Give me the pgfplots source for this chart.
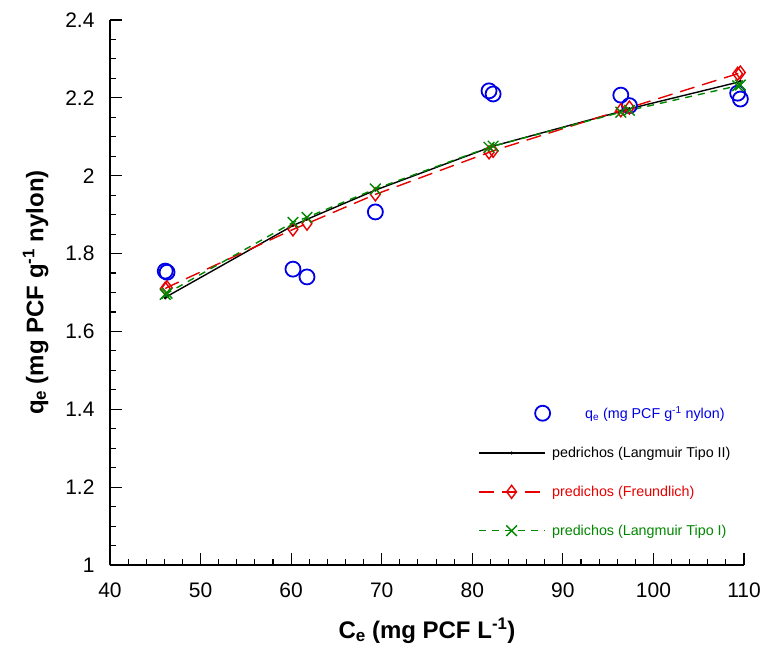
\documentclass[border=0pt]{standalone}
\usepackage{fontspec}
\setmainfont{Liberation Sans}
\usepackage{pgfplots}
\pgfplotsset{compat=1.18}
\definecolor{qblue}{RGB}{0,0,230}
\definecolor{fred}{RGB}{230,0,0}
\definecolor{lgreen}{RGB}{0,135,0}
\newcommand{\sube}{\raisebox{-2.5pt}{\fontsize{17}{18}\selectfont e}}
\begin{document}
\begin{tikzpicture}
\useasboundingbox (-110pt,-80pt) rectangle (655pt,565pt);
\begin{axis}[
  at={(0pt,0pt)}, anchor=south west,
  scale only axis, width=634pt, height=545pt,
  xmin=40, xmax=110, ymin=1, ymax=2.4,
  axis lines*=left,
  axis line style={line width=1.2pt},
  xtick={40,50,...,110}, ytick={1,1.2,...,2.4},
  minor x tick num=4, minor y tick num=3,
  tick align=inside,
  major tick length=12pt, minor tick length=6pt,
  tick style={line width=1.1pt, black},
  /pgf/number format/assume math mode=true,
  /pgf/number format/fixed,
  ticklabel style={font=\fontsize{21}{23}\selectfont},
  xticklabel style={yshift=-14pt},
  yticklabel style={xshift=-12pt},
  xlabel={\textbf{C\sube\ (mg PCF L\textsuperscript{-1})}},
  ylabel={\textbf{q\sube\ (mg PCF g\textsuperscript{-1} nylon)}},
  label style={font=\fontsize{24}{26}\selectfont},
  xlabel style={yshift=-14pt},
  ylabel style={yshift=10pt},
  legend style={draw=none, fill=none, at={(0.58,0.295)}, anchor=north west,
    font=\fontsize{14.3}{16}\selectfont, row sep=23pt, inner sep=0pt},
  legend cell align=left,
  legend image code/.code={\draw[mark repeat=2,mark phase=2] plot coordinates {(0pt,0pt) (33pt,0pt) (66pt,0pt)};},
]
\addplot[only marks, mark=o, mark size=7.5pt, qblue, line width=1.8pt,
  legend image code/.code={\draw plot coordinates {(64pt,0pt)};}]
  coordinates {
  (46.1,1.755) (46.3,1.752) (60.2,1.760) (61.75,1.740) (69.3,1.907)
  (81.85,2.218) (82.3,2.210) (96.4,2.207) (97.35,2.180) (109.3,2.212) (109.6,2.197)
  };
\addlegendentry{\textcolor{qblue}{\hspace{33pt}q\textsubscript{e} (mg PCF g\textsuperscript{-1} nylon)}}
\addplot[black, line width=1.4pt, mark=*, mark size=0.7pt] coordinates {
  (46.1,1.686) (46.3,1.690) (60.2,1.872) (61.75,1.888) (69.3,1.963)
  (81.85,2.072) (82.3,2.076) (96.4,2.165) (97.35,2.172) (109.3,2.240) (109.6,2.243)
  };
\addlegendentry{pedrichos (Langmuir Tipo II)}
\addplot[fred, line width=1.4pt, dash pattern=on 15pt off 8pt, mark=diamond, mark size=6.5pt,
  mark options={solid, line width=1.4pt}] coordinates {
  (46.1,1.710) (46.3,1.713) (60.2,1.862) (61.75,1.877) (69.3,1.952)
  (81.85,2.060) (82.3,2.064) (96.4,2.168) (97.35,2.175) (109.3,2.262) (109.6,2.265)
  };
\addlegendentry{\textcolor{fred}{predichos (Freundlich)}}
\addplot[lgreen, line width=1.4pt, dash pattern=on 7pt off 6pt, mark=x, mark size=7.5pt,
  mark options={solid, line width=1.4pt}] coordinates {
  (46.1,1.695) (46.3,1.698) (60.2,1.880) (61.75,1.893) (69.3,1.966)
  (81.85,2.073) (82.3,2.076) (96.4,2.163) (97.35,2.168) (109.3,2.231) (109.6,2.233)
  };
\addlegendentry{\textcolor{lgreen}{predichos (Langmuir Tipo I)}}
\end{axis}
\end{tikzpicture}
\end{document}
